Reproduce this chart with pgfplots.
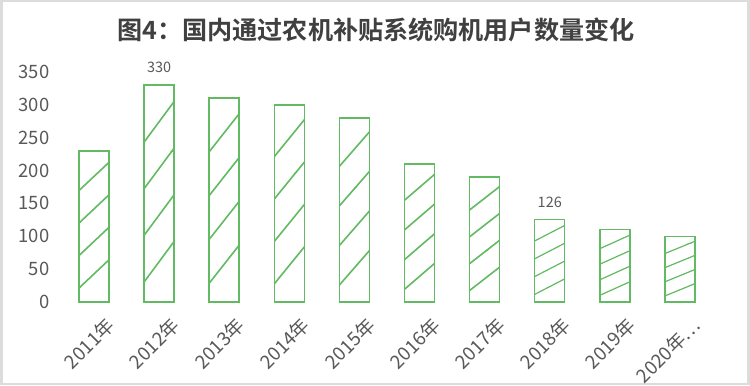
\documentclass[border=0pt]{standalone}
\usepackage{pgfplots}
\pgfplotsset{compat=1.18}
\usetikzlibrary{patterns}
\usepackage{fontspec}
\setmainfont{Noto Sans CJK SC}
\newfontfamily\titlefont{Noto Sans CJK SC Bold}
\definecolor{barg}{RGB}{98,186,98}
\definecolor{txtg}{RGB}{89,89,89}
\definecolor{frameg}{RGB}{220,220,220}
% one hatch segment: #1 spacing, #2 rise, #3 index; tile height 5*spacing, bars start at y=83bp
\newcommand\hseg[3]{%
  \pgfmathsetmacro\hy{mod(83+(0.43+#3)*#1,5*#1)}%
  \pgfmathsetmacro\hz{\hy+#2}%
  \pgfmathsetmacro\hyy{\hy-5*#1}%
  \pgfmathsetmacro\hzz{\hz-5*#1}%
  \pgfpathmoveto{\pgfpoint{13.95bp}{\hy bp}}\pgfpathlineto{\pgfpoint{43.95bp}{\hz bp}}%
  \pgfpathmoveto{\pgfpoint{13.95bp}{\hyy bp}}\pgfpathlineto{\pgfpoint{43.95bp}{\hzz bp}}%
}
% #1 name, #2 spacing, #3 rise, #4 line width (tile width = bar spacing 65.1bp)
\newcommand\hatchpat[4]{%
  \pgfdeclarepatternformonly{#1}{\pgfpointorigin}{\pgfpoint{65.1bp}{5*#2bp}}{\pgfpoint{65.1bp}{5*#2bp}}{%
    \pgfsetlinewidth{#4bp}%
    \hseg{#2}{#3}{0}\hseg{#2}{#3}{1}\hseg{#2}{#3}{2}\hseg{#2}{#3}{3}%
    \pgfusepath{stroke}}}
\hatchpat{hA}{32.50}{28.28}{1.6}
\hatchpat{hB}{46.64}{40.57}{1.6}
\hatchpat{hC}{43.81}{38.11}{1.6}
\hatchpat{hD}{42.40}{36.88}{1.6}
\hatchpat{hE}{39.57}{34.43}{1.6}
\hatchpat{hF}{29.68}{25.82}{1.6}
\hatchpat{hG}{26.85}{23.36}{1.6}
\hatchpat{hH}{17.81}{15.49}{1.2}
\hatchpat{hI}{15.55}{13.53}{1.2}
\hatchpat{hJ}{14.13}{12.29}{1.2}
\begin{document}
\begin{tikzpicture}[x=1bp,y=1bp]
\path[use as bounding box] (0,0) rectangle (750,385);
\fill[white] (0,0) rectangle (750,385);
\draw[frameg,line width=2.5bp] (1.25,1.25) rectangle (748.25,383.75);
\node[font=\titlefont\fontsize{25.2}{29}\selectfont, text=black!75] at (376,355) {图4：国内通过农机补贴系统购机用户数量变化};
\begin{axis}[
  at={(61.5bp,83bp)}, anchor=south west,
  scale only axis, width=651bp, height=230bp,
  ybar, bar width=30bp, bar shift=0pt,
  xmin=-0.5, xmax=9.5, ymin=0, ymax=350,
  ytick={0,50,...,350},
  xtick={0,...,9},
  xticklabels={2011年,2012年,2013年,2014年,2015年,2016年,2017年,2018年,2019年,2020年…},
  x tick label style={rotate=45, anchor=east, inner sep=0pt, xshift=-2bp, yshift=-26bp, font=\fontsize{19}{21}\selectfont, text=txtg},
  y tick label style={anchor=east, inner sep=0pt, xshift=-12bp, font=\fontsize{18.5}{20}\selectfont, text=txtg},
  /pgf/number format/assume math mode=true,
  axis line style={draw=none},
  major tick length=0pt,
  clip=false,
  every axis plot/.append style={draw=barg, pattern color=barg, line width=1.6bp},
  nodes near coords style={font=\fontsize{14.5}{16}\selectfont, text=txtg, yshift=8bp},
]
\addplot[pattern=hA] coordinates {(0,230)};
\addplot[pattern=hB, nodes near coords] coordinates {(1,330)};
\addplot[pattern=hC] coordinates {(2,310)};
\addplot[pattern=hD] coordinates {(3,300)};
\addplot[pattern=hE] coordinates {(4,280)};
\addplot[pattern=hF] coordinates {(5,210)};
\addplot[pattern=hG] coordinates {(6,190)};
\addplot[pattern=hH, line width=1.3bp, nodes near coords] coordinates {(7,126)};
\addplot[pattern=hI, line width=1.3bp] coordinates {(8,110)};
\addplot[pattern=hJ, line width=1.3bp] coordinates {(9,100)};
\end{axis}
\end{tikzpicture}
\end{document}
